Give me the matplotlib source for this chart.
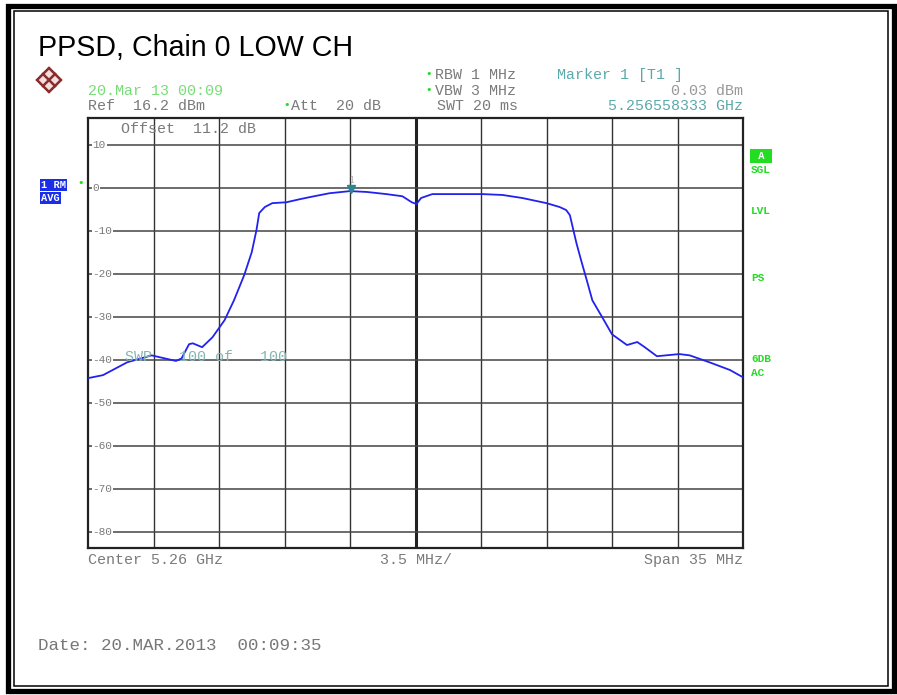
import matplotlib
matplotlib.use("Agg")
import matplotlib.pyplot as plt
from matplotlib.patches import Rectangle, Polygon
from matplotlib.lines import Line2D

# trace: offset from centre (MHz) and level (dBm)
freq_mhz = [-17.5, -16.7, -15.4, -14.1, -13.7, -12.8, -12.5, -12.1, -11.9, -11.4,
            -10.85, -10.2, -9.7, -9.15, -8.75, -8.5, -8.35, -8.05, -7.65, -6.9,
            -6.2, -5.65, -4.6, -3.5, -2.6, -1.55, -0.7, -0.2, 0.05, 0.3,
            0.9, 3.6, 4.65, 5.7, 7.0, 7.7, 8.05, 8.25, 8.4, 8.6,
            8.85, 9.15, 9.45, 10.0, 10.5, 11.3, 11.85, 12.25, 12.9, 14.1,
            14.65, 15.7, 16.8, 17.5]
level_dbm = [-44.3, -43.6, -40.6, -39.0, -39.4, -40.3, -39.7, -36.4, -36.2, -37.1,
             -34.8, -30.8, -26.2, -20.3, -15.0, -9.9, -5.9, -4.5, -3.6, -3.4,
             -2.7, -2.2, -1.3, -0.8, -1.0, -1.5, -2.0, -3.4, -3.8, -2.4,
             -1.5, -1.5, -1.7, -2.4, -3.6, -4.5, -5.2, -6.4, -9.2, -12.9,
             -16.9, -21.5, -26.2, -30.3, -34.1, -36.6, -35.9, -37.1, -39.2, -38.7,
             -39.0, -40.6, -42.4, -44.1]

y_ticks = [10, 0, -10, -20, -30, -40, -50, -60, -70, -80]
ref_level = 16.2
span = 35.0
marker_f = 5256.558333 - 5260.0
marker_level = -0.7

W, H = 897, 695
mono = "Liberation Mono"
grey = "#7a7a7a"
green = "#22dd22"
teal = "#5aaaaa"


def fx(px):
    return px / W


def fy(py):
    return 1 - py / H


fig = plt.figure(figsize=(W / 100, H / 100), dpi=100)
fig.patch.set_facecolor("white")

# double frame round the page
fig.add_artist(Rectangle((fx(8), fy(691)), fx(886) - fx(0), fy(0) - fy(685),
                         transform=fig.transFigure, fill=False, lw=3.8, ec="black"))
fig.add_artist(Rectangle((fx(14), fy(686)), fx(874), fy(0) - fy(675),
                         transform=fig.transFigure, fill=False, lw=1.1, ec="black"))

fig.text(fx(38), fy(48), "PPSD, Chain 0 LOW CH", fontsize=20.6,
         family="Liberation Sans", va="center", ha="left")

# R&S logo, just a rough diamond
cx, cy, r = 49, 80, 12
fig.add_artist(Polygon([(fx(cx - r), fy(cy)), (fx(cx), fy(cy - r)), (fx(cx + r), fy(cy)),
                        (fx(cx), fy(cy + r))], closed=True, transform=fig.transFigure,
                       fc="#f3dede", ec="#8b2b2b", lw=1.8))
fig.add_artist(Line2D([fx(cx - 6), fx(cx + 6)], [fy(cy - 6), fy(cy + 6)],
                      transform=fig.transFigure, color="#8b2b2b", lw=1.8))
fig.add_artist(Line2D([fx(cx - 6), fx(cx + 6)], [fy(cy + 6), fy(cy - 6)],
                      transform=fig.transFigure, color="#8b2b2b", lw=1.8))

# header lines
hs = 10.8
fig.text(fx(88), fy(91), "20.Mar 13 00:09", color="#77dd77", fontsize=hs, family=mono, va="center")
fig.text(fx(88), fy(106), "Ref  16.2 dBm", color=grey, fontsize=hs, family=mono, va="center")
fig.text(fx(283), fy(105), "\u2022", color=green, fontsize=8, va="center")
fig.text(fx(291), fy(106), "Att  20 dB", color=grey, fontsize=hs, family=mono, va="center")
fig.text(fx(425), fy(74), "\u2022", color=green, fontsize=8, va="center")
fig.text(fx(435), fy(75), "RBW 1 MHz", color=grey, fontsize=hs, family=mono, va="center")
fig.text(fx(425), fy(90), "\u2022", color=green, fontsize=8, va="center")
fig.text(fx(435), fy(91), "VBW 3 MHz", color=grey, fontsize=hs, family=mono, va="center")
fig.text(fx(437), fy(106), "SWT 20 ms", color=grey, fontsize=hs, family=mono, va="center")
fig.text(fx(557), fy(75), "Marker 1 [T1 ]", color=teal, fontsize=hs, family=mono, va="center")
fig.text(fx(743), fy(91), "0.03 dBm", color="#999999", fontsize=hs, family=mono, va="center", ha="right")
fig.text(fx(743), fy(106), "5.256558333 GHz", color=teal, fontsize=hs, family=mono, va="center", ha="right")

# trace window
ax = fig.add_axes([fx(88), fy(548), fx(743) - fx(88), fy(118) - fy(548)])
ax.set_xlim(-span / 2, span / 2)
ax.set_ylim(ref_level - 100, ref_level)
ax.set_xticks([])
ax.set_yticks([])
for s in ax.spines.values():
    s.set_linewidth(1.6)
    s.set_color("#222222")

for i in range(1, 10):
    xv = -span / 2 + i * span / 10
    ax.axvline(xv, color="#222222" if i == 5 else "#333333", lw=2.2 if i == 5 else 1.0, zorder=1)
for v in y_ticks:
    ax.axhline(v, color="#444444", lw=1.1, zorder=1)
    ax.text(-17.25, v, str(v), color=grey, fontsize=8, family=mono, va="center", ha="left",
            bbox=dict(fc="white", ec="none", pad=0.6), zorder=2)

ax.text(-15.75, 13.6, "Offset  11.2 dB", color=grey, fontsize=hs, family=mono, va="center", zorder=2)
ax.text(-15.5, -39.3, "SWP   100 of   100", color="#88b4b4", fontsize=hs, family=mono,
        va="center", zorder=4)

ax.plot(freq_mhz, level_dbm, color="#2222ee", lw=1.3, zorder=3)
ax.plot([marker_f], [marker_level + 0.4], marker="v", color="#2a8888", ms=6, zorder=5)
ax.text(marker_f, marker_level + 2.4, "1", color="#aaaaaa", fontsize=5.5, ha="center", va="center", zorder=5)

# side annotations
fig.text(fx(41), fy(185), "1 RM", color="white", fontsize=7.5, family=mono, weight="bold", va="center",
         bbox=dict(fc="#1a2ee8", ec="none", pad=1.0))
fig.text(fx(41), fy(198), "AVG", color="white", fontsize=7.5, family=mono, weight="bold", va="center",
         bbox=dict(fc="#1a2ee8", ec="none", pad=1.0))
fig.text(fx(77), fy(183), "\u2022", color=green, fontsize=8, va="center")

fig.text(fx(761), fy(156), " A ", color="white", fontsize=7.5, family=mono, weight="bold", va="center",
         ha="center", bbox=dict(fc=green, ec="none", pad=1.5))
for lbl, py in [("SGL", 170), ("LVL", 211), ("PS", 278), ("6DB", 359), ("AC", 373)]:
    fig.text(fx(751), fy(py), lbl, color=green, fontsize=8, family=mono, weight="bold", va="center")

# bottom labels
fig.text(fx(88), fy(560), "Center 5.26 GHz", color=grey, fontsize=hs, family=mono, va="center")
fig.text(fx(416), fy(560), "3.5 MHz/", color=grey, fontsize=hs, family=mono, va="center", ha="center")
fig.text(fx(743), fy(560), "Span 35 MHz", color=grey, fontsize=hs, family=mono, va="center", ha="right")

fig.text(fx(38), fy(645), "Date: 20.MAR.2013  00:09:35", color="#777777", fontsize=12.6, family=mono, va="center")

fig.savefig("out.png", dpi=100)
